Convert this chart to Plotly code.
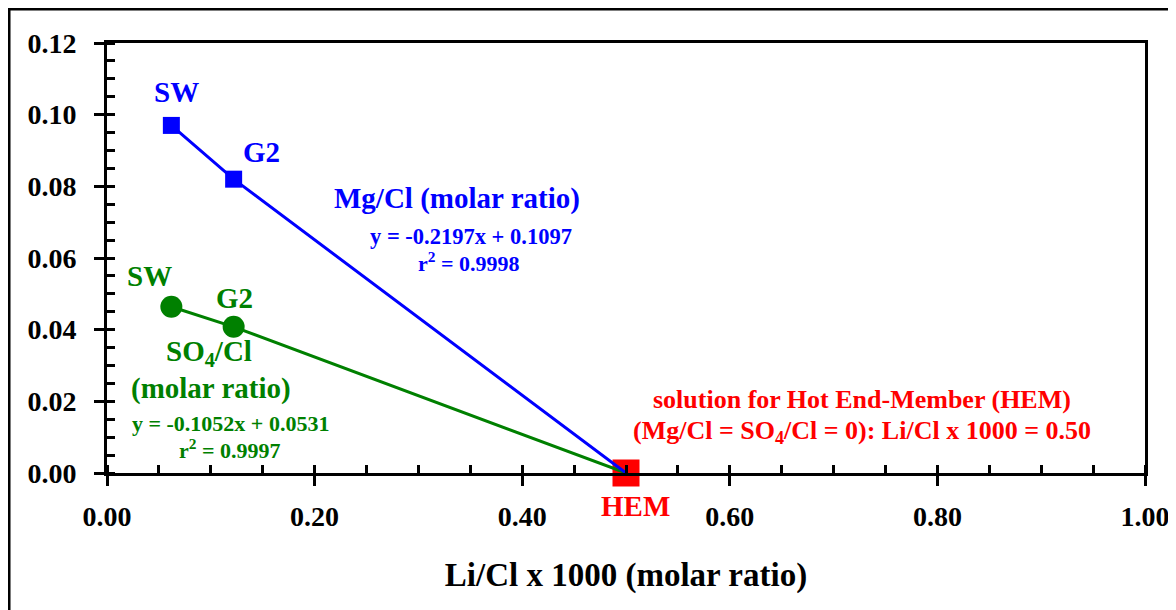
import plotly.graph_objects as go

# Data
mg_x = [0.062, 0.122, 0.50]
mg_y = [0.097, 0.082, 0.0]
so4_x = [0.062, 0.122, 0.50]
so4_y = [0.0464, 0.0408, 0.0]
sample_labels = ["SW", "G2"]
hem_x = [0.50]
hem_y = [0.0]

BLUE = "#0000FF"
GREEN = "#008000"
RED = "#FF0000"
FONT = "Liberation Serif"

fig = go.Figure()

fig.add_trace(go.Scatter(x=hem_x, y=hem_y, mode="markers",
                         marker=dict(symbol="square", size=27, color=RED),
                         cliponaxis=False, showlegend=False))
fig.add_trace(go.Scatter(x=so4_x, y=so4_y, mode="lines",
                         line=dict(color=GREEN, width=3), showlegend=False))
fig.add_trace(go.Scatter(x=mg_x, y=mg_y, mode="lines",
                         line=dict(color=BLUE, width=3), showlegend=False))
fig.add_trace(go.Scatter(x=so4_x[:2], y=so4_y[:2], mode="markers",
                         marker=dict(symbol="circle", size=22, color=GREEN),
                         showlegend=False))
fig.add_trace(go.Scatter(x=mg_x[:2], y=mg_y[:2], mode="markers",
                         marker=dict(symbol="square", size=17, color=BLUE),
                         showlegend=False))
# invisible trace for overlay axes (inner half of major ticks)
fig.add_trace(go.Scatter(x=[0], y=[0], xaxis="x2", yaxis="y2", mode="markers",
                         marker=dict(opacity=0), showlegend=False, hoverinfo="skip"))

tickfont = dict(family=FONT, size=28, color="black", weight="bold")

fig.update_layout(
    width=1176, height=610,
    margin=dict(l=99, r=39, t=35, b=145),
    paper_bgcolor="white", plot_bgcolor="white",
    font=dict(family=FONT, color="black"),
    xaxis=dict(range=[0, 1.0], dtick=0.2, tickformat=".2f",
               showgrid=False, zeroline=False,
               showline=True, linecolor="black", linewidth=3, mirror=True,
               ticks="outside", ticklen=10, tickwidth=3, tickcolor="black",
               tickfont=tickfont, ticklabelstandoff=6,
               minor=dict(dtick=0.05, ticks="inside", ticklen=8, tickwidth=2.5, tickcolor="black"),
               title=dict(text="<b>Li/Cl x 1000 (molar ratio)</b>",
                          font=dict(family=FONT, size=33, color="black"), standoff=33)),
    yaxis=dict(range=[0, 0.12], dtick=0.02, tickformat=".2f",
               showgrid=False, zeroline=False,
               showline=True, linecolor="black", linewidth=3, mirror=True,
               ticks="outside", ticklen=10, tickwidth=3, tickcolor="black",
               tickfont=tickfont, ticklabelstandoff=12,
               minor=dict(dtick=0.005, ticks="inside", ticklen=8, tickwidth=2.5, tickcolor="black")),
    xaxis2=dict(overlaying="x", matches="x", range=[0, 1.0], dtick=0.2,
                showgrid=False, zeroline=False, showline=False, showticklabels=False,
                ticks="inside", ticklen=8, tickwidth=3, tickcolor="black", anchor="y2"),
    yaxis2=dict(overlaying="y", matches="y", range=[0, 0.12], dtick=0.02,
                showgrid=False, zeroline=False, showline=False, showticklabels=False,
                ticks="inside", ticklen=8, tickwidth=3, tickcolor="black", anchor="x2"),
)

def ann(x, y, text, color, size, yref="y"):
    fig.add_annotation(x=x, y=y, xref="x", yref=yref, text="<b>" + text + "</b>",
                       showarrow=False, font=dict(family=FONT, size=size, color=color),
                       xanchor="center", yanchor="middle")

ann(0.0665, 0.1063, sample_labels[0], BLUE, 29)
ann(0.149, 0.0896, sample_labels[1], BLUE, 29)
ann(0.337, 0.0765, "Mg/Cl (molar ratio)", BLUE, 29)
ann(0.351, 0.0659, "y = -0.2197x + 0.1097", BLUE, 22.5)
ann(0.349, 0.0589, "r<sup>2</sup> = 0.9998", BLUE, 22)

ann(0.0414, 0.055, sample_labels[0], GREEN, 29)
ann(0.123, 0.0488, sample_labels[1], GREEN, 29)
ann(0.098, 0.0335, "SO<sub>4</sub>/Cl", GREEN, 29)
ann(0.100, 0.0237, "(molar ratio)", GREEN, 29)
ann(0.1185, 0.0137, "y = -0.1052x + 0.0531", GREEN, 22)
ann(0.1185, 0.0067, "r<sup>2</sup> = 0.9997", GREEN, 22)

ann(0.727, 0.0204, "solution for Hot End-Member (HEM)", RED, 26)
ann(0.727, 0.0114, "(Mg/Cl = SO<sub>4</sub>/Cl = 0): Li/Cl x 1000 = 0.50", RED, 26)
ann(0.5096, -0.0767, "HEM", RED, 29, yref="paper")

# outer frame
fig.add_shape(type="rect", xref="paper", yref="paper",
              x0=-0.0944, x1=1.2, y0=-0.6, y1=1.079,
              line=dict(color="black", width=3), fillcolor="rgba(0,0,0,0)", layer="below")

fig.write_html("out.html")
